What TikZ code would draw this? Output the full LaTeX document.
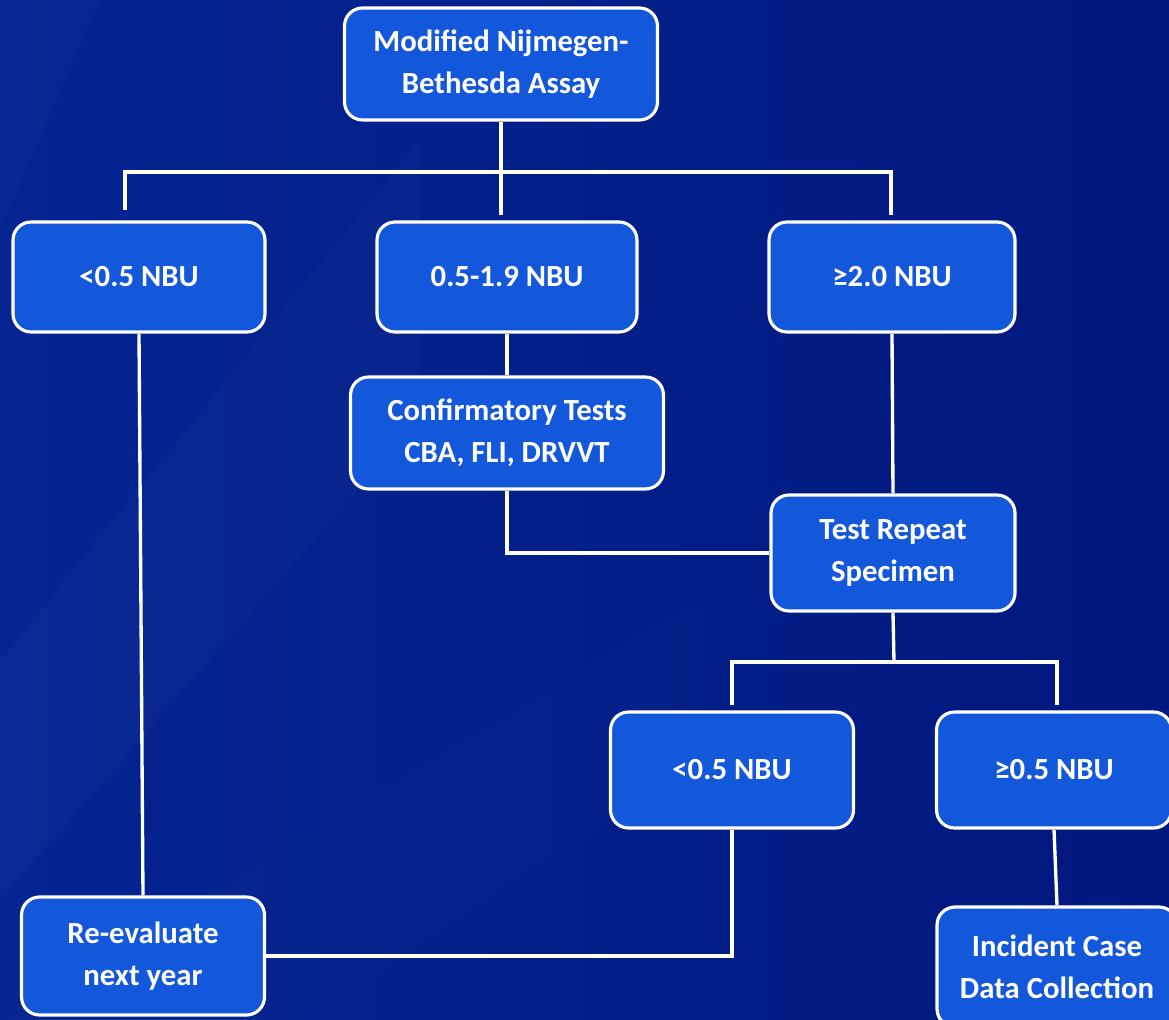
\documentclass[tikz,border=0pt]{standalone}
\usepackage{fontspec}
\setmainfont{Carlito}
\usetikzlibrary{positioning}

\definecolor{bgleft}{HTML}{062592}
\definecolor{bgright}{HTML}{00187E}
\definecolor{boxblue}{HTML}{1357DB}

\tikzset{
    box/.style={draw=white, line width=1.8pt, fill=boxblue, rounded corners=0.36cm,
        text=white, font=\bfseries\fontsize{17.5}{24}\selectfont, align=center, inner sep=0pt},
    link/.style={draw=white, line width=1.9pt}
}

\begin{document}
\begin{tikzpicture}[x=0.02cm, y=-0.02cm]
    % background
    \useasboundingbox (0,0) rectangle (1169,1020);
    \clip (0,0) rectangle (1169,1020);
    \shade [left color=bgleft, right color=bgright] (0,0) rectangle (1169,1020);
    \fill [white, opacity=0.015] (0,0) -- (100,0) -- (0,230) -- cycle;
    \fill [white, opacity=0.018] (0,660) -- (420,140) -- (420,420) -- (0,900) -- cycle;
    \fill [white, opacity=0.012] (0,1020) -- (700,600) -- (700,760) -- (300,1020) -- cycle;

    % boxes
    \node [box, minimum width=6.26cm, minimum height=2.24cm] (assay) at (501,64) {Modified Nijmegen-\\Bethesda Assay};
    \node [box, minimum width=5.04cm, minimum height=2.2cm] (low) at (139,277) {<0.5 NBU};
    \node [box, minimum width=5.2cm, minimum height=2.2cm] (mid) at (507,277) {0.5-1.9 NBU};
    \node [box, minimum width=4.92cm, minimum height=2.2cm] (high) at (892,277) {≥2.0 NBU};
    \node [box, minimum width=6.26cm, minimum height=2.24cm] (confirm) at (507,433) {Confirmatory Tests\\CBA, FLI, DRVVT};
    \node [box, minimum width=4.88cm, minimum height=2.32cm] (repeat) at (893,553) {Test Repeat\\Specimen};
    \node [box, minimum width=4.86cm, minimum height=2.32cm] (neg) at (732,770) {<0.5 NBU};
    \node [box, minimum width=4.7cm, minimum height=2.32cm] (pos) at (1054,770) {≥0.5 NBU};
    \node [box, minimum width=4.86cm, minimum height=2.36cm] (reeval) at (143,956) {Re-evaluate\\next year};
    \node [box, minimum width=4.8cm, minimum height=2.4cm] (incident) at (1057,967) {Incident Case\\Data Collection};

    % connectors
    \coordinate (topbar) at (501,172);
    \draw [link] (assay.south) -- (topbar);
    \draw [link] ([xshift=-0.28cm, yshift=0.2cm]low.north) |- (topbar) -| ([xshift=-0.02cm, yshift=0.1cm]high.north);
    \draw [link, shorten >=0.1cm] (topbar) -- (topbar |- mid.north);
    \draw [link] (low.south) -- (reeval.north);
    \draw [link] (mid.south) -- (confirm.north);
    \draw [link] (confirm.south) |- (repeat.west);
    \draw [link] (high.south) -- (repeat.north);

    \coordinate (lowbar) at (894,662);
    \draw [link] (repeat.south) -- (lowbar);
    \draw [link] ([yshift=0.1cm]neg.north) |- (lowbar) -| ([xshift=0.06cm, yshift=0.1cm]pos.north);
    \draw [link] (neg.south) |- (reeval.east);
    \draw [link] (pos.south) -- (incident.north);
\end{tikzpicture}
\end{document}
